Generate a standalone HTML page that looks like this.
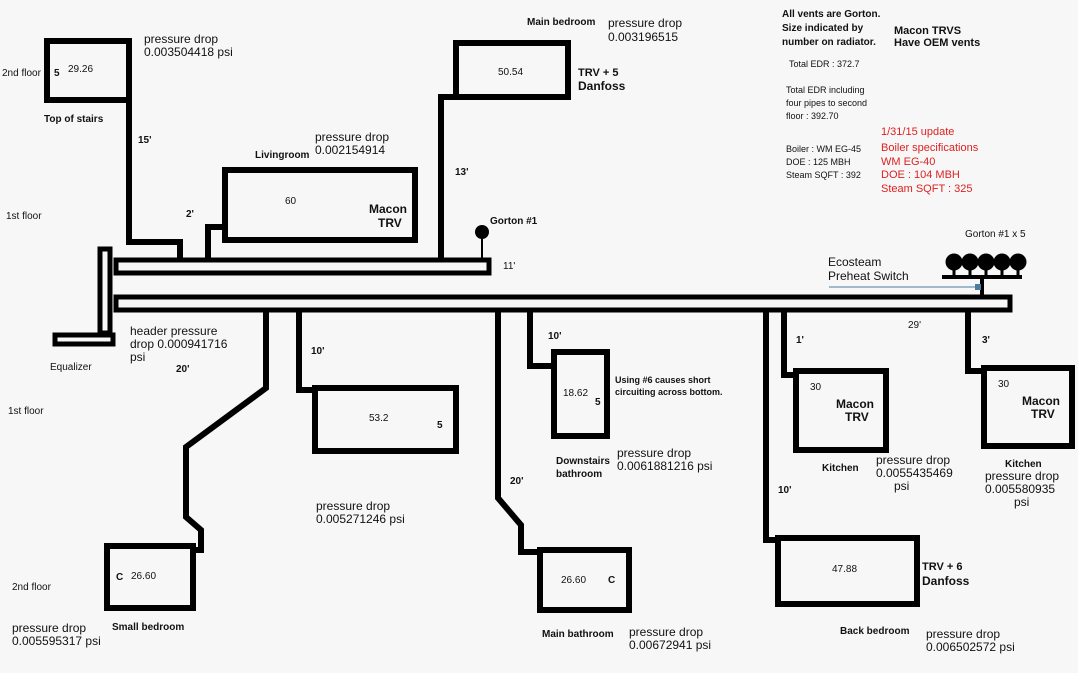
<!DOCTYPE html>
<html><head><style>
html,body{margin:0;padding:0;background:#f7f7f7;}
svg{display:block;}
text{font-family:"Liberation Sans",sans-serif;fill:#111;}
.s{font-size:10px;}
.b{font-size:10px;font-weight:bold;}
.m{font-size:12px;}
.r{font-size:11px;fill:#d22;}
</style></head><body>
<svg width="1078" height="673" viewBox="0 0 1078 673">
<rect width="1078" height="673" fill="#f7f7f7"/>
<g fill="none" stroke="#000" stroke-width="6">
<rect x="47" y="41" width="82" height="59"/>
<rect x="456" y="43" width="112" height="54"/>
<rect x="225" y="170" width="190" height="70"/>
<rect x="315" y="388" width="141" height="63"/>
<rect x="554" y="352" width="53" height="84"/>
<rect x="796" y="371" width="90" height="79"/>
<rect x="984" y="368" width="88" height="78"/>
<rect x="107" y="546" width="86" height="62"/>
<rect x="540" y="550" width="89" height="60"/>
<rect x="778" y="538" width="139" height="66"/>
<rect x="116" y="260" width="373" height="13" stroke-width="5"/>
<rect x="116" y="297" width="894" height="13" stroke-width="5"/>
<rect x="100" y="249" width="10" height="84" stroke-width="5"/>
<rect x="55" y="335" width="58" height="9" stroke-width="5"/>
<polyline points="129,97 129,242 180,242 180,262"/>
<polyline points="208,262 208,227 225,227"/>
<polyline points="441,258 441,97 456,97"/>
<polyline points="266,312 266,388 186,447 186,517 201,530 201,550 193,550"/>
<polyline points="299,312 299,390 315,390"/>
<polyline points="498,312 498,498 521,525 521,552 540,552"/>
<polyline points="530,312 530,366 554,366"/>
<polyline points="766,312 766,540 778,540"/>
<polyline points="784,312 784,375 796,375"/>
<polyline points="968,312 968,371 984,371"/>
</g>
<line x1="482" y1="236" x2="482" y2="260" stroke="#000" stroke-width="2"/>
<circle cx="482" cy="232" r="7"/>
<line x1="982" y1="277" x2="982" y2="297" stroke="#000" stroke-width="4"/>
<line x1="942" y1="277" x2="1022" y2="277" stroke="#000" stroke-width="4"/>
<g stroke="#000" stroke-width="3">
<line x1="954" y1="262" x2="954" y2="277"/><line x1="970" y1="262" x2="970" y2="277"/><line x1="986" y1="262" x2="986" y2="277"/><line x1="1002" y1="262" x2="1002" y2="277"/><line x1="1018" y1="262" x2="1018" y2="277"/>
</g>
<circle cx="954" cy="262" r="8.5"/><circle cx="970" cy="262" r="8.5"/><circle cx="986" cy="262" r="8.5"/><circle cx="1002" cy="262" r="8.5"/><circle cx="1018" cy="262" r="8.5"/>
<line x1="829" y1="287" x2="977" y2="287" stroke="#4a7da0" stroke-width="1"/>
<rect x="975" y="284" width="6" height="6" fill="#4a7da0"/>
<text class="m" x="144" y="43">pressure drop</text><text class="m" x="144" y="56">0.003504418 psi</text>
<text class="s" x="2" y="76">2nd floor</text><text class="b" x="54" y="76">5</text><text class="s" x="68" y="72">29.26</text>
<text class="b" x="44" y="122">Top of stairs</text>
<text class="b" x="138" y="143">15'</text>
<text class="b" x="527" y="25">Main bedroom</text>
<text class="m" x="608" y="27">pressure drop</text><text class="m" x="608" y="41">0.003196515</text>
<text class="s" x="498" y="75">50.54</text>
<text class="b" x="578" y="76" style="font-size:11px">TRV +  5</text><text class="b" x="578" y="90" style="font-size:12px">Danfoss</text>
<text class="m" x="315" y="141">pressure drop</text><text class="m" x="315" y="154">0.002154914</text>
<text class="b" x="255" y="158">Livingroom</text>
<text class="b" x="455" y="175">13'</text>
<text class="s" x="285" y="204">60</text>
<text class="b" x="369" y="213" style="font-size:12px">Macon</text><text class="b" x="378" y="227" style="font-size:12px">TRV</text>
<text class="b" x="186" y="217">2'</text>
<text class="s" x="6" y="219">1st floor</text>
<text class="b" x="490" y="224">Gorton #1</text>
<text class="s" x="503" y="269">11'</text>
<text class="b" x="782" y="17">All vents are Gorton.</text>
<text class="b" x="782" y="31">Size indicated by</text>
<text class="b" x="782" y="45">number on radiator.</text>
<text class="b" x="894" y="34" style="font-size:11px">Macon TRVS</text>
<text class="b" x="894" y="46" style="font-size:11px">Have OEM vents</text>
<text class="s" x="789" y="67" style="font-size:9px">Total EDR : 372.7</text>
<text class="s" x="786" y="93" style="font-size:9px">Total EDR including</text>
<text class="s" x="786" y="106" style="font-size:9px">four pipes to second</text>
<text class="s" x="786" y="119" style="font-size:9px">floor : 392.70</text>
<text class="r" x="881" y="135">1/31/15 update</text>
<text class="r" x="881" y="151">Boiler specifications</text>
<text class="r" x="881" y="165">WM EG-40</text>
<text class="r" x="881" y="178">DOE : 104 MBH</text>
<text class="r" x="881" y="192">Steam SQFT : 325</text>
<text class="s" x="786" y="152" style="font-size:9px">Boiler : WM EG-45</text>
<text class="s" x="786" y="165" style="font-size:9px">DOE : 125 MBH</text>
<text class="s" x="786" y="178" style="font-size:9px">Steam SQFT : 392</text>
<text class="s" x="965" y="237">Gorton #1  x  5</text>
<text class="m" x="828" y="266">Ecosteam</text><text class="m" x="828" y="280">Preheat Switch</text>
<text class="m" x="130" y="335">header pressure</text><text class="m" x="130" y="348">drop 0.000941716</text><text class="m" x="130" y="361">psi</text>
<text class="s" x="50" y="370">Equalizer</text>
<text class="b" x="176" y="372">20'</text>
<text class="b" x="311" y="354">10'</text>
<text class="s" x="8" y="414">1st floor</text>
<text class="s" x="369" y="421">53.2</text><text class="b" x="437" y="428">5</text>
<text class="m" x="316" y="510">pressure drop</text><text class="m" x="316" y="523">0.005271246 psi</text>
<text class="b" x="548" y="339">10'</text>
<text class="b" x="615" y="383" style="font-size:9px">Using #6 causes short</text>
<text class="b" x="615" y="395" style="font-size:9px">circuiting across bottom.</text>
<text class="s" x="563" y="396">18.62</text><text class="b" x="595" y="405">5</text>
<text class="b" x="556" y="464">Downstairs</text><text class="b" x="556" y="477">bathroom</text>
<text class="m" x="617" y="457">pressure drop</text><text class="m" x="617" y="470">0.0061881216 psi</text>
<text class="b" x="510" y="484">20'</text>
<text class="b" x="796" y="343">1'</text>
<text class="s" x="908" y="328">29'</text>
<text class="b" x="982" y="343">3'</text>
<text class="s" x="810" y="390">30</text>
<text class="b" x="836" y="408" style="font-size:12px">Macon</text><text class="b" x="845" y="421" style="font-size:12px">TRV</text>
<text class="b" x="822" y="471">Kitchen</text>
<text class="m" x="876" y="464">pressure drop</text><text class="m" x="876" y="477">0.0055435469</text><text class="m" x="894" y="490">psi</text>
<text class="s" x="998" y="387">30</text>
<text class="b" x="1022" y="405" style="font-size:12px">Macon</text><text class="b" x="1031" y="418" style="font-size:12px">TRV</text>
<text class="b" x="1005" y="467">Kitchen</text>
<text class="m" x="985" y="480">pressure drop</text><text class="m" x="985" y="493">0.005580935</text><text class="m" x="1014" y="506">psi</text>
<text class="b" x="778" y="493">10'</text>
<text class="s" x="832" y="572">47.88</text>
<text class="b" x="922" y="570" style="font-size:11px">TRV + 6</text><text class="b" x="922" y="585" style="font-size:12px">Danfoss</text>
<text class="b" x="840" y="634">Back bedroom</text>
<text class="m" x="926" y="638">pressure drop</text><text class="m" x="926" y="651">0.006502572 psi</text>
<text class="s" x="12" y="590">2nd floor</text>
<text class="b" x="116" y="580">C</text><text class="s" x="131" y="579">26.60</text>
<text class="m" x="12" y="632">pressure drop</text><text class="m" x="12" y="645">0.005595317 psi</text>
<text class="b" x="112" y="630">Small bedroom</text>
<text class="s" x="561" y="583">26.60</text><text class="b" x="608" y="583">C</text>
<text class="b" x="542" y="637">Main bathroom</text>
<text class="m" x="629" y="636">pressure drop</text><text class="m" x="629" y="649">0.00672941 psi</text>
</svg>
</body></html>
